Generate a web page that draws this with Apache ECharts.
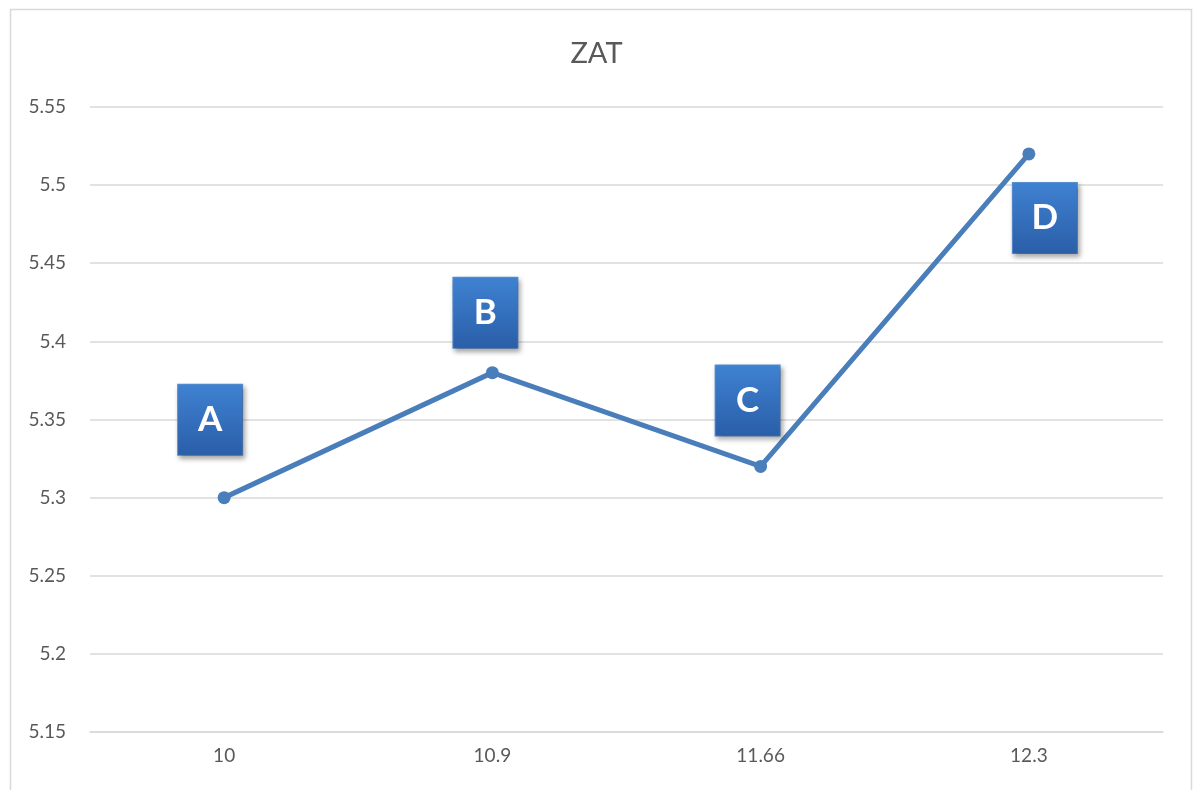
<!DOCTYPE html>
<html>
<head>
<meta charset="utf-8">
<style>
  html, body { margin: 0; padding: 0; background: #ffffff; }
  #chart { width: 1193px; height: 790px; }
</style>
<script src="https://cdn.jsdelivr.net/npm/echarts@6/dist/echarts.min.js"></script>
</head>
<body>
<div id="chart"></div>
<script>
// Category labels along the bottom axis
const categories = ['10', '10.9', '11.66', '12.3'];
// ZAT values for each category
const zatValues = [5.3, 5.38, 5.32, 5.52];
// Callout letters attached to each point
const pointNames = ['A', 'B', 'C', 'D'];
// Where each callout box sits relative to its point
const labelOffsets = [[-14, -78], [-7, -60], [-13, -66], [16, 64]];

const chart = echarts.init(document.getElementById('chart'));

const boxGradient = new echarts.graphic.LinearGradient(0, 0, 0, 1, [
  { offset: 0, color: '#3f82d2' },
  { offset: 1, color: '#2a5ea8' }
]);

const seriesData = zatValues.map((v, i) => ({
  value: v,
  label: {
    show: true,
    position: 'inside',
    offset: labelOffsets[i],
    formatter: pointNames[i],
    width: 64,
    height: 70,
    lineHeight: 70,
    align: 'center',
    verticalAlign: 'middle',
    color: '#ffffff',
    fontFamily: 'Lato, "Open Sans", sans-serif',
    fontWeight: 'bold',
    fontSize: 35,
    backgroundColor: boxGradient,
    borderColor: '#5a8fd0',
    borderWidth: 1,
    shadowColor: 'rgba(0,0,0,0.35)',
    shadowBlur: 5,
    shadowOffsetX: 2,
    shadowOffsetY: 3
  }
}));

chart.setOption({
  animation: false,
  backgroundColor: '#ffffff',
  graphic: [{
    type: 'rect',
    left: 8,
    top: 7,
    shape: { width: 1181, height: 800 },
    style: { fill: 'none', stroke: '#d9d9d9', lineWidth: 1.5 },
    silent: true
  }],
  title: {
    text: 'ZAT',
    left: 'center',
    top: 34,
    textStyle: {
      fontFamily: 'Lato, "Open Sans", sans-serif',
      fontSize: 29,
      fontWeight: 'normal',
      color: '#595959'
    }
  },
  grid: { left: 90, right: 30, top: 107, bottom: 58 },
  xAxis: {
    type: 'category',
    data: categories,
    boundaryGap: true,
    axisLine: { lineStyle: { color: '#d9d9d9', width: 1.5 } },
    axisTick: { show: false },
    axisLabel: {
      color: '#595959',
      fontSize: 19,
      fontFamily: 'Lato, "Open Sans", sans-serif',
      margin: 14
    }
  },
  yAxis: {
    type: 'value',
    min: 5.15,
    max: 5.55,
    interval: 0.05,
    axisLine: { show: false },
    axisTick: { show: false },
    splitLine: { lineStyle: { color: '#d9d9d9', width: 1.5 } },
    axisLabel: {
      color: '#595959',
      fontSize: 19,
      fontFamily: 'Lato, "Open Sans", sans-serif',
      margin: 24,
      formatter: v => String(parseFloat(v.toFixed(2)))
    }
  },
  series: [{
    type: 'line',
    data: seriesData,
    symbol: 'circle',
    symbolSize: 13,
    lineStyle: { color: '#4a7ebb', width: 5 },
    itemStyle: { color: '#4a7ebb' },
    z: 2
  }]
});
</script>
</body>
</html>
